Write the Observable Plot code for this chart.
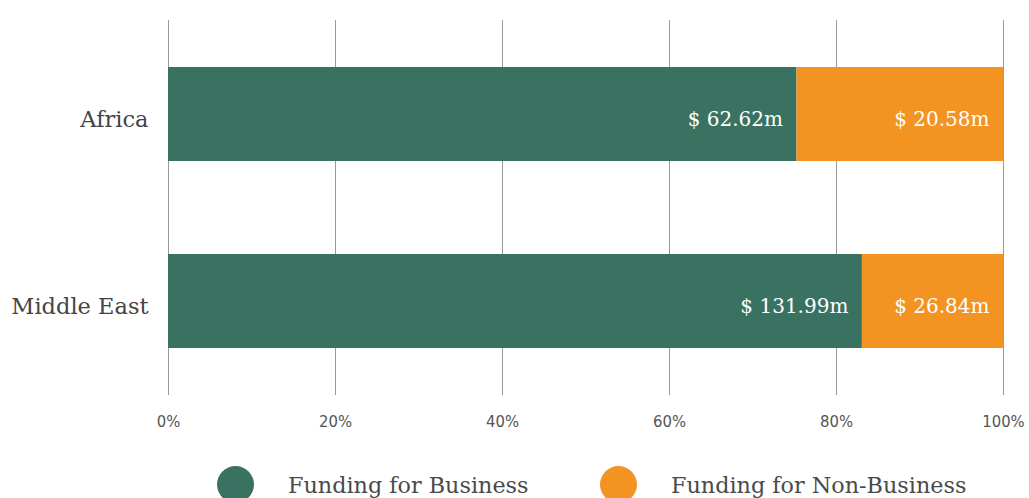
<!DOCTYPE html>
<html><head><meta charset="utf-8">
<script src="https://cdn.jsdelivr.net/npm/d3@7"></script>
<script src="https://cdn.jsdelivr.net/npm/@observablehq/plot@0.6"></script>
<style>
body{margin:0;background:#fff;font-family:"DejaVu Serif",serif;overflow:hidden}
#legend{position:relative;height:43px}
.item{position:absolute;top:11px;display:flex;align-items:center}
.dot{width:37px;height:37px;border-radius:50%}
.lab{font-size:22.3px;color:#4a4a4a;margin-left:34px;font-family:"DejaVu Serif",serif}
</style></head><body>
<div id="chart"></div>
<div id="legend"></div>
<script>
const regions = ["Africa", "Middle East"];
const seriesNames = ["Funding for Business", "Funding for Non-Business"];
const business = [62.62, 131.99];
const nonBusiness = [20.58, 26.84];
const colors = ["#3a7262", "#f29322"];
const xTicks = [0, 0.2, 0.4, 0.6, 0.8, 1];

const data = [];
regions.forEach((r, i) => {
  data.push({region: r, series: seriesNames[0], value: business[i]});
  data.push({region: r, series: seriesNames[1], value: nonBusiness[i]});
});

const plot = Plot.plot({
  width: 1029,
  height: 455,
  marginLeft: 168,
  marginRight: 26,
  marginTop: 20,
  marginBottom: 60,
  style: {fontFamily: "'DejaVu Serif', serif", background: "#fff"},
  x: {domain: [0, 1], ticks: xTicks, tickFormat: d => Math.round(d * 100) + "%", label: null},
  y: {domain: regions, padding: 0.5, paddingOuter: 0.25, label: null},
  color: {domain: seriesNames, range: colors},
  marks: [
    Plot.gridX(xTicks, {stroke: "#999", strokeOpacity: 1, strokeWidth: 1}),
    Plot.barX(data, Plot.stackX({x: "value", y: "region", fill: "series", offset: "normalize", order: seriesNames})),
    Plot.text(data, Plot.stackX2({x: "value", y: "region", z: "series", offset: "normalize", order: seriesNames,
      text: d => "$ " + d.value.toFixed(2) + "m", textAnchor: "end", dx: -14, dy: 5, fill: "#fff",
      fontSize: 20, fontFamily: "'DejaVu Serif', serif"})),
    Plot.axisX({ticks: xTicks, tickFormat: d => Math.round(d * 100) + "%", tickSize: 0, tickPadding: 20, fontSize: 16.5, fill: "#555", fontFamily: "'DejaVu Sans Condensed', sans-serif", label: null}),
    Plot.axisY({tickSize: 0, tickPadding: 20, dy: 5, fontSize: 22.5, fill: "#444", fontFamily: "'DejaVu Serif', serif", label: null})
  ]
});
document.getElementById("chart").appendChild(plot);

const leg = document.getElementById("legend");
const lefts = [217, 600];
seriesNames.forEach((s, i) => {
  const it = document.createElement("div");
  it.className = "item";
  it.style.left = lefts[i] + "px";
  it.innerHTML = `<div class="dot" style="background:${colors[i]}"></div><span class="lab">${s}</span>`;
  leg.appendChild(it);
});
</script>
</body></html>
